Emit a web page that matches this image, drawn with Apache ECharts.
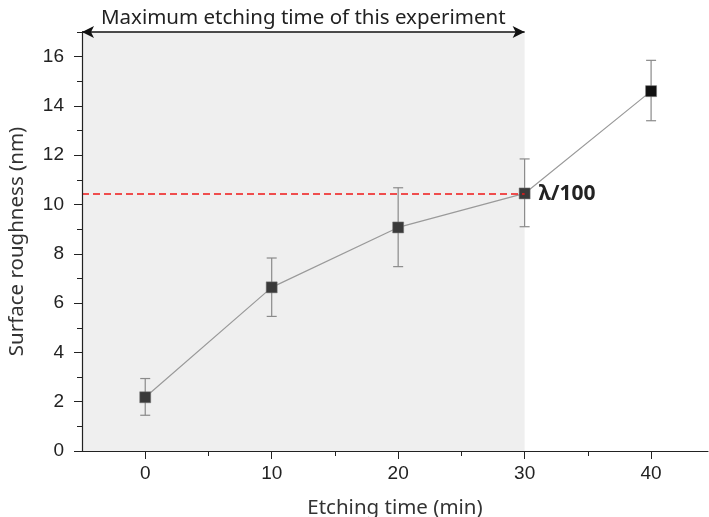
<!DOCTYPE html>
<html>
<head>
<meta charset="utf-8">
<script src="https://cdn.jsdelivr.net/npm/echarts@6/dist/echarts.min.js"></script>
<style>
  html, body { margin: 0; padding: 0; background: #fff; }
  #chart { width: 709px; height: 517px; }
</style>
</head>
<body>
<div id="chart"></div>
<script>
// data
const etchTimes = [0, 10, 20, 30, 40];
const roughness = [2.18, 6.64, 9.07, 10.45, 14.6];
const errLow = [1.45, 5.46, 7.48, 9.1, 13.4];
const errHigh = [2.94, 7.83, 10.68, 11.85, 15.85];

const xMajorTicks = [0, 10, 20, 30, 40];
const xMinorTicks = [5, 15, 25, 35];
const yMajorTicks = [0, 2, 4, 6, 8, 10, 12, 14, 16];
const yMinorTicks = [1, 3, 5, 7, 9, 11, 13, 15, 17];

const shadeRange = [-5, 30];     // max etching time of the experiment
const lambdaLevel = 10.42;       // λ/100 line
const yTop = 17;

const chart = echarts.init(document.getElementById('chart'));

const tickFont = { fontFamily: 'Liberation Sans, Arial', fontSize: 19, color: '#222' };
const nameFont = { fontFamily: 'Noto Sans', fontSize: 20.5, color: '#333' };

const axisCommon = {
  type: 'value',
  splitLine: { show: false },
  z: 5
};

const option = {
  animation: false,
  grid: { left: 82, right: 1, top: 32, bottom: 66, outerBoundsMode: 'none' },
  xAxis: [
    Object.assign({}, axisCommon, {
      min: -5, max: 44.5,
      name: 'Etching time (min)',
      nameLocation: 'middle',
      nameGap: 47,
      nameTextStyle: nameFont,
      axisLine: { show: true, onZero: false, lineStyle: { color: '#222', width: 1.2 } },
      axisTick: { show: true, customValues: xMajorTicks, length: 8, lineStyle: { color: '#222' } },
      axisLabel: Object.assign({ customValues: xMajorTicks, margin: 13 }, tickFont)
    }),
    Object.assign({}, axisCommon, {
      min: -5, max: 44.5, position: 'bottom',
      axisLine: { show: false, onZero: false },
      axisTick: { show: true, customValues: xMinorTicks, length: 5, lineStyle: { color: '#222' } },
      axisLabel: { show: false }
    })
  ],
  yAxis: [
    Object.assign({}, axisCommon, {
      min: 0, max: yTop,
      name: 'Surface roughness (nm)',
      nameLocation: 'middle',
      nameGap: 54,
      nameRotate: 90,
      nameTextStyle: nameFont,
      axisLine: { show: true, onZero: false, lineStyle: { color: '#222', width: 1.2 } },
      axisTick: { show: true, customValues: yMajorTicks, length: 8, lineStyle: { color: '#222' } },
      axisLabel: Object.assign({ customValues: yMajorTicks, margin: 18 }, tickFont)
    }),
    Object.assign({}, axisCommon, {
      min: 0, max: yTop, position: 'left',
      axisLine: { show: false, onZero: false },
      axisTick: { show: true, customValues: yMinorTicks, length: 5, lineStyle: { color: '#222' } },
      axisLabel: { show: false }
    })
  ],
  series: [
    { // shaded region + annotations
      type: 'line',
      data: [],
      clip: false,
      z: 1,
      silent: true,
      markArea: {
        silent: true,
        itemStyle: { color: '#efefef' },
        data: [[{ coord: [shadeRange[0], 0] }, { coord: [shadeRange[1], yTop] }]]
      },
      markLine: {
        silent: true,
        data: [
          [
            {
              coord: [shadeRange[0], yTop],
              symbol: 'arrow', symbolSize: [9, 12],
              lineStyle: { color: '#111', width: 1.5, type: 'solid' },
              label: {
                show: true, position: 'middle', distance: 3,
                formatter: 'Maximum etching time of this experiment',
                fontFamily: 'Noto Sans', fontSize: 20.5, color: '#222'
              }
            },
            { coord: [shadeRange[1], yTop], symbol: 'arrow', symbolSize: [9, 12] }
          ],
          [
            {
              coord: [shadeRange[0], lambdaLevel],
              symbol: 'none',
              lineStyle: { color: '#f01818', width: 1.6, type: [7, 4] },
              label: {
                show: true, position: 'end', distance: 14,
                formatter: 'λ/100',
                fontFamily: 'Noto Sans', fontWeight: 'bold', fontSize: 21, color: '#222'
              }
            },
            { coord: [shadeRange[1], lambdaLevel], symbol: 'none' }
          ]
        ]
      }
    },
    { // error bars
      type: 'custom',
      z: 3,
      data: etchTimes.map((t, i) => [t, errLow[i], errHigh[i]]),
      renderItem: function (params, api) {
        const lo = api.coord([api.value(0), api.value(1)]);
        const hi = api.coord([api.value(0), api.value(2)]);
        const cap = 5;
        const style = { stroke: '#8a8a8a', lineWidth: 1.2 };
        return {
          type: 'group',
          children: [
            { type: 'line', shape: { x1: lo[0], y1: lo[1], x2: hi[0], y2: hi[1] }, style: style },
            { type: 'line', shape: { x1: lo[0] - cap, y1: lo[1], x2: lo[0] + cap, y2: lo[1] }, style: style },
            { type: 'line', shape: { x1: hi[0] - cap, y1: hi[1], x2: hi[0] + cap, y2: hi[1] }, style: style }
          ]
        };
      }
    },
    { // mean values
      type: 'line',
      z: 4,
      data: etchTimes.map((t, i) => ({
        value: [t, roughness[i]],
        itemStyle: { color: t > shadeRange[1] ? '#111' : '#3a3a3a' }
      })),
      symbol: 'rect',
      symbolSize: 11,
      lineStyle: { color: '#9a9a9a', width: 1.2 },
      itemStyle: { color: '#3a3a3a', borderColor: '#777', borderWidth: 0.5 }
    }
  ]
};

chart.setOption(option);
</script>
</body>
</html>
